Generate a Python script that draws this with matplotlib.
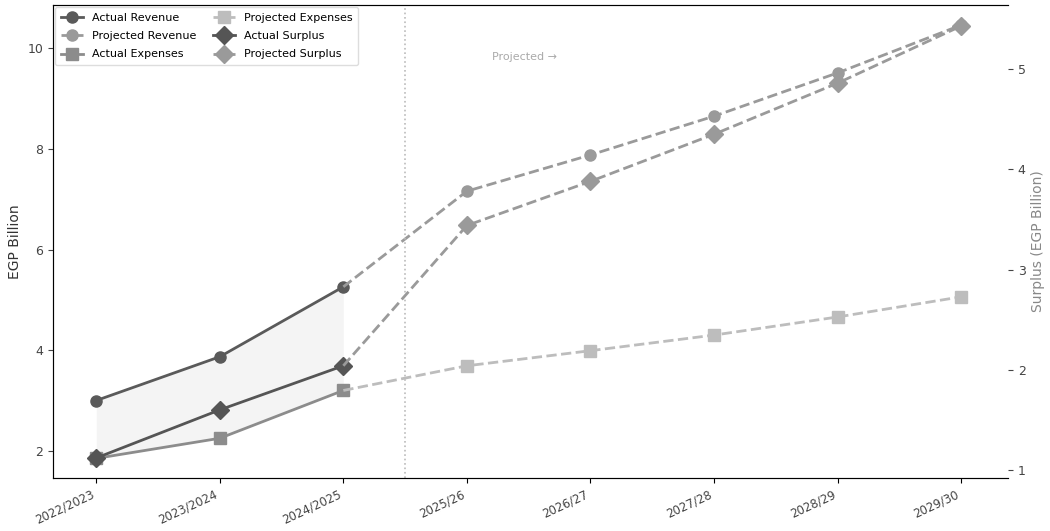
import matplotlib
matplotlib.use("Agg")
import matplotlib.pyplot as plt
import numpy as np

years_actual = ["2022/2023", "2023/2024", "2024/2025"]
years_proj = ["2025/26", "2026/27", "2027/28", "2028/29", "2029/30"]
categories = years_actual + years_proj

actual_revenue = [3.00, 3.87, 5.26]
actual_expenses = [1.85, 2.25, 3.20]
actual_surplus = [1.12, 1.60, 2.04]
proj_revenue = [7.16, 7.88, 8.65, 9.51, 10.46]
proj_expenses = [3.69, 3.99, 4.30, 4.66, 5.06]
proj_surplus = [3.44, 3.88, 4.35, 4.86, 5.43]

plt.rcParams['font.family'] = ['DejaVu Sans']

fig = plt.figure(figsize=(10.5, 5.31), dpi=100)
ax = fig.add_axes([0.0505, 0.0998, 0.9095, 0.8908])
ax2 = ax.twinx()

xa = np.arange(len(years_actual))
xp = np.arange(len(years_actual) - 1, len(categories))

c_rev_a, c_rev_p = "#5a5a5a", "#9a9a9a"
c_exp_a, c_exp_p = "#8c8c8c", "#bdbdbd"
c_sur_a, c_sur_p = "#555555", "#9a9a9a"

l1, = ax.plot(xa, actual_revenue, color=c_rev_a, marker='o', ms=8, lw=2, label="Actual Revenue")
l2, = ax.plot(xp, [actual_revenue[-1]] + proj_revenue, color=c_rev_p, marker='o', ms=8, lw=2,
              ls='--', label="Projected Revenue", markevery=list(range(1, len(xp))))
l3, = ax.plot(xa, actual_expenses, color=c_exp_a, marker='s', ms=8, lw=2, label="Actual Expenses")
l4, = ax.plot(xp, [actual_expenses[-1]] + proj_expenses, color=c_exp_p, marker='s', ms=8, lw=2,
              ls='--', label="Projected Expenses", markevery=list(range(1, len(xp))))
ax.fill_between(xa, actual_expenses, actual_revenue, color="#cccccc", alpha=0.2, lw=0)

l5, = ax2.plot(xa, actual_surplus, color=c_sur_a, marker='D', ms=9, lw=2, label="Actual Surplus")
l6, = ax2.plot(xp, [actual_surplus[-1]] + proj_surplus, color=c_sur_p, marker='D', ms=9, lw=2,
               ls='--', label="Projected Surplus", markevery=list(range(1, len(xp))))

ax.axvline(2.5, color="#bbbbbb", ls=':', lw=1.2)
ax.text(3.47, 9.83, "Projected \u2192", color="#aaaaaa", fontsize=8, ha='center', va='center')

ax.set_xlim(-0.35, 7.38)
ax.set_ylim(1.46, 10.86)
ax2.set_ylim(0.92, 5.64)
ax.set_xticks(range(len(categories)))
ax.set_xticklabels(categories, rotation=25, ha='right', fontsize=8.5, color="#444444")
ax.set_yticks([2, 4, 6, 8, 10])
ax2.set_yticks([1, 2, 3, 4, 5])
ax.tick_params(axis='y', labelsize=9, colors="#444444")
ax2.tick_params(axis='y', labelsize=9, colors="#444444")
ax.set_ylabel("EGP Billion", fontsize=10, color="#333333")
ax2.set_ylabel("Surplus (EGP Billion)", fontsize=10, color="#888888")

for s in ["right"]:
    ax.spines[s].set_visible(False)
    ax2.spines[s].set_visible(False)
for s in ["left", "bottom", "top"]:
    ax.spines[s].set_color("#555555")

ax.legend(handles=[l1, l2, l3, l4, l5, l6], loc='upper left', ncol=2, fontsize=8,
          frameon=True, framealpha=1.0, edgecolor="#dddddd", borderpad=0.5,
          borderaxespad=0.2, columnspacing=1.5, handlelength=2.0, labelspacing=0.75)

fig.savefig("out.png", dpi=100)
